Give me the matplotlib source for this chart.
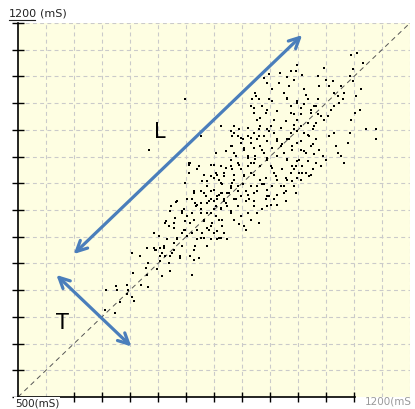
import numpy as np
import matplotlib
matplotlib.use("Agg")
import matplotlib.pyplot as plt
from matplotlib.lines import Line2D

# RR(n) vs RR(n+1), ms
rr_n = [657, 675, 676, 695, 697, 694, 682, 703, 708, 655, 673, 705, 703, 717, 730, 733, 729, 731, 733, 720,
        742, 743, 747, 753, 757, 760, 763, 754, 748, 757, 772, 769, 775, 778, 784, 790, 793, 793, 799, 778,
        769, 765, 773, 783, 793, 796, 802, 808, 811, 810, 814, 823, 816, 820, 829, 832, 838, 841, 844, 850,
        856, 862, 868, 874, 865, 859, 853, 850, 838, 832, 826, 817, 811, 814, 826, 835, 844, 853, 856, 862,
        868, 874, 880, 886, 892, 898, 904, 910, 916, 922, 927, 930, 936, 942, 945, 951, 957, 963, 948, 945,
        939, 933, 927, 921, 913, 907, 898, 892, 886, 880, 874, 865, 859, 853, 844, 838, 829, 820, 808, 799,
        805, 862, 871, 880, 886, 892, 898, 904, 910, 916, 922, 924, 910, 904, 898, 892, 883, 880, 886, 895,
        901, 910, 916, 922, 927, 933, 939, 945, 951, 957, 963, 969, 975, 978, 981, 987, 993, 996, 990, 981,
        975, 969, 963, 957, 951, 945, 939, 933, 927, 921, 916, 918, 924, 930, 936, 942, 948, 954, 945, 939,
        948, 966, 968, 980, 987, 996, 998, 1008, 993, 984, 975, 981, 987, 993, 999, 1005, 1011, 1014, 1017, 1023,
        1029, 1035, 1038, 1035, 1047, 1050, 1056, 1062, 1065, 1071, 1077, 1083, 1080, 1074, 1065, 1059, 1053, 1047, 1041, 1032,
        1026, 1020, 1011, 1005, 999, 993, 987, 981, 990, 999, 1005, 1014, 1023, 1032, 1038, 1044, 1050, 1041, 1032, 1026,
        1020, 1014, 1008, 1002, 996, 1002, 1005, 1065, 1056, 1068, 1071, 1077, 1083, 1089, 1092, 1095, 1101, 1110, 1104, 1113,
        1098, 1092, 1098, 1106, 1095, 1122, 1140, 1140, 1116, 799, 734, 826, 805, 863, 816, 826, 841, 862, 886, 895,
        907, 927,
        925, 954, 981, 999, 1011, 1023, 1032, 922, 945, 963, 987, 1005, 1035, 933, 957, 978, 993, 1017, 1029, 886,
        910, 930, 948, 969, 999, 1017, 883, 898, 916, 930, 945, 963, 984, 1005, 1026, 880, 904, 922, 936, 954,
        972, 990, 1011, 1029, 853, 871, 889, 910, 924, 945, 963, 981, 999, 1017, 850, 862, 880, 895, 916, 933,
        954, 972, 993, 1008, 1023, 856, 868, 886, 904, 922, 942, 960, 978, 999, 838, 862, 883, 901, 916, 936,
        954, 975, 990, 844, 859, 877, 892, 910, 927, 945, 963, 978, 850, 868, 886, 907, 922,
        805, 823, 844, 832, 850, 868, 883, 799, 814, 832, 850, 865, 880, 784, 802, 820, 838, 856, 871, 889,
        772, 793, 811, 826, 844, 862, 880, 763, 781, 799, 814, 832, 847, 865, 778, 796, 820, 838, 856, 751,
        766, 784, 802, 826, 844, 859, 745, 760, 778, 793, 814, 754, 772, 790, 808]
rr_n1 = [700, 707, 700, 710, 700, 692, 677, 687, 680, 662, 657, 732, 770, 764, 779, 751, 742, 729, 706, 710,
         807, 779, 775, 779, 770, 782, 764, 754, 739, 726, 735, 751, 770, 788, 795, 764, 782, 807, 813, 826,
         820, 829, 857, 865, 845, 851, 838, 826, 807, 729, 757, 760, 782, 795, 807, 798, 782, 813, 820, 807,
         795, 798, 807, 795, 820, 832, 838, 851, 845, 832, 863, 857, 870, 882, 885, 876, 870, 857, 876, 882,
         870, 857, 845, 870, 857, 838, 820, 845, 832, 857, 845, 826, 851, 870, 857, 860, 870, 860, 876, 888,
         898, 907, 895, 882, 870, 885, 876, 895, 907, 895, 882, 898, 907, 920, 913, 895, 904, 926, 938, 901,
         920, 932, 929, 944, 957, 938, 926, 913, 932, 920, 938, 951, 951, 963, 976, 988, 969, 998, 994, 1001,
         982, 988, 976, 994, 982, 969, 957, 944, 932, 920, 907, 895, 882, 866, 907, 920, 895, 882, 932, 944,
         957, 969, 982, 994, 1007, 1001, 988, 1007, 1019, 1032, 1044, 1057, 1069, 1057, 1044, 1032, 1057, 1076, 1088, 1097,
         1104, 1088, 1107, 1099, 1110, 1110, 1122, 1102, 1094, 1082, 1069, 1057, 1044, 1029, 1051, 1041, 1076, 1066, 1057, 1032,
         1044, 1057, 1082, 1100, 1116, 1094, 1082, 1091, 1069, 1063, 1082, 1069, 1057, 1051, 1044, 1038, 1026, 1019, 1026, 1013,
         1001, 988, 994, 1007, 1019, 1001, 994, 982, 969, 976, 963, 957, 969, 982, 963, 951, 944, 932, 938, 926,
         913, 920, 932, 944, 932, 920, 907, 994, 988, 969, 957, 951, 938, 976, 994, 1019, 1032, 1038, 1063, 1076,
         1091, 1100, 1113, 1144, 1141, 1001, 1001, 983, 1125, 1058, 962, 988, 938, 1008, 863, 845, 866, 854, 832, 823,
         813, 845,
         1063, 1054, 1060, 1054, 1048, 1038, 1044, 1041, 1038, 1035, 1032, 1029, 1029, 1023, 1019, 1016, 1010, 1013, 1007, 1007,
         1004, 1001, 998, 1004, 998, 991, 988, 985, 985, 988, 979, 979, 982, 979, 973, 970, 966, 966, 963, 966,
         973, 963, 960, 954, 957, 960, 951, 948, 945, 948, 951, 945, 941, 941, 935, 932, 932, 935, 938, 932,
         929, 926, 926, 920, 916, 916, 913, 916, 916, 916, 910, 913, 910, 910, 904, 901, 901, 898, 895, 898,
         895, 895, 904, 885, 879, 882, 885, 879, 885, 876, 879, 885, 866, 866, 870, 866, 866,
         935, 932, 935, 916, 910, 920, 926, 901, 885, 882, 888, 882, 891, 867, 870, 860, 863, 870, 863, 870,
         848, 848, 845, 851, 845, 851, 848, 826, 835, 829, 832, 829, 826, 832, 817, 813, 813, 817, 810, 801,
         795, 798, 801, 798, 795, 798, 776, 779, 776, 782, 776, 764, 764, 760, 764]

grid_ticks = np.arange(500, 1201, 50)
x_ticks = np.arange(600, 1101, 50)

fig = plt.figure(figsize=(4.15, 4.09), dpi=100)
ax = fig.add_axes([18 / 415, 12 / 409, 392 / 415, 374 / 409])
ax.set_facecolor('#fefee2')
ax.set_xlim(500, 1200)
ax.set_ylim(500, 1200)

# grid
for g in grid_ticks[1:]:
    ax.axvline(g, color='#cacaca', lw=0.8, ls=(0, (3.5, 3)), zorder=0)
    ax.axhline(g, color='#cacaca', lw=0.8, ls=(0, (3.5, 3)), zorder=0)

# identity line
ax.plot([500, 1200], [500, 1200], color='#555555', lw=0.7, ls=(0, (5, 4)), zorder=1)

ax.scatter(rr_n, rr_n1, s=3.2, marker='s', color='black', linewidths=0, zorder=3)

# SD arrows
blue = '#4a7ebb'
ax.annotate('', xy=(596, 764), xytext=(1011, 1181),
            arrowprops=dict(arrowstyle='<->', color=blue, lw=2.3, mutation_scale=19), zorder=4)
ax.annotate('', xy=(565, 732), xytext=(706, 591),
            arrowprops=dict(arrowstyle='<->', color=blue, lw=2.3, mutation_scale=19), zorder=4)
ax.text(754, 996, 'L', fontsize=15, ha='center', va='center')
ax.text(579, 638, 'T', fontsize=15, ha='center', va='center')

# axes
for s in ['top', 'right']:
    ax.spines[s].set_visible(False)
ax.spines['left'].set_linewidth(1.2)
ax.spines['bottom'].set_linewidth(1.2)
ax.spines['bottom'].set_bounds(500, 1102)
ax.set_yticks(grid_ticks)
ax.set_xticks(x_ticks)
ax.tick_params(axis='y', direction='inout', length=9, width=1.0, labelleft=False)
ax.tick_params(axis='x', direction='inout', length=7, width=1.0, labelbottom=False)

fig.text(9 / 415, 1 - 14 / 409, '1200', fontsize=8, va='center', ha='left', color='#222222')
fig.text(40 / 415, 1 - 14 / 409, '(mS)', fontsize=8, va='center', ha='left', color='#222222')
fig.add_artist(Line2D([9 / 415, 35 / 415], [1 - 20 / 409, 1 - 20 / 409], color='#222222', lw=0.8))
fig.text(15 / 415, 1 - 403 / 409, '500(mS)', fontsize=7.5, va='center', ha='left', color='#222222',
         bbox=dict(facecolor='white', edgecolor='none', pad=0.5))
fig.text(365 / 415, 1 - 401 / 409, '1200(mS', fontsize=7.5, va='center', ha='left', color='#9a9a9a')

fig.savefig('out.png', dpi=100)
